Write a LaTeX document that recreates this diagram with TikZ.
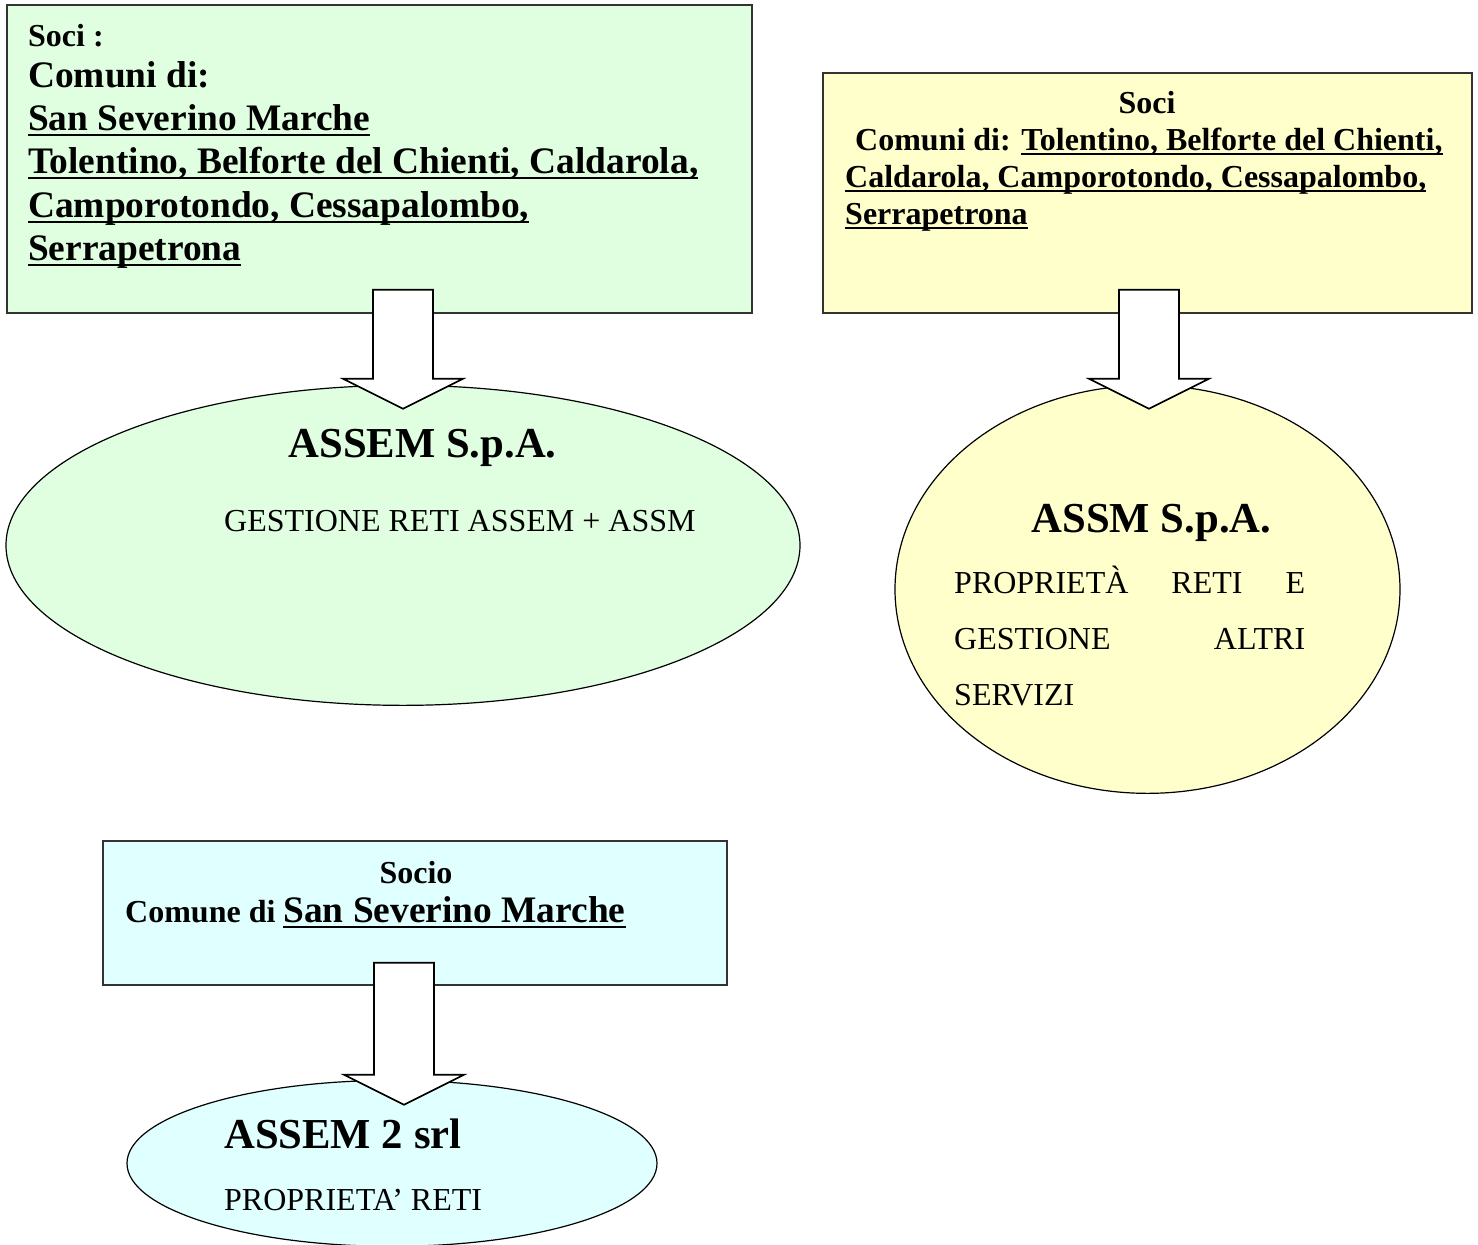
\documentclass[tikz,border=0pt]{standalone}
\usepackage{fontspec}
\setmainfont{Liberation Serif}
\usetikzlibrary{positioning, calc, shapes.geometric}
\definecolor{verdino}{RGB}{224,255,224}
\definecolor{giallino}{RGB}{255,255,204}
\definecolor{azzurrino}{RGB}{224,255,255}
\newcommand{\piccolo}{\fontsize{32}{37}\selectfont}
\newcommand{\medio}{\fontsize{37.4}{43}\selectfont}
\newcommand{\grande}{\fontsize{42.7}{49}\selectfont}
\newcommand{\sottolinea}[1]{\setbox0\hbox{#1}\rlap{\rule[-0.17em]{\wd0}{0.075em}}\box0}
\newcommand{\frecciablocco}[2]{%
	\draw[freccia] let \p1=(#1), \p2=(#2) in
	(\x2-30pt,\y1) -- (\x2+30pt,\y1) -- (\x2+30pt,\y2+30pt) -- (\x2+60pt,\y2+30pt)
	-- (\x2,\y2) -- (\x2-60pt,\y2+30pt) -- (\x2-30pt,\y2+30pt) -- cycle;}
\tikzset{
	x=1pt, y=-1pt,
	socibox/.style={draw=black!80, line width=1.5pt, inner sep=0pt},
	societa/.style={ellipse, draw, line width=1.2pt, inner sep=0pt},
	freccia/.style={draw, fill=white, line width=1.6pt, line join=miter},
	riga/.style={anchor=base west, inner sep=0pt, font=\bfseries\medio}}

\begin{document}
\begin{tikzpicture}
	\useasboundingbox (0,0) rectangle (1478,1245);
	
	% soci
	\node[socibox, fill=verdino, minimum width=745pt, minimum height=308pt] (box1) at (379.5,159) {};
	\node[socibox, fill=giallino, minimum width=649pt, minimum height=240pt] (box2) at (1147.5,193) {};
	\node[socibox, fill=azzurrino, minimum width=624pt, minimum height=144pt] (box3) at (415,913) {};
	
	% societa
	\node[societa, fill=verdino, minimum width=794pt, minimum height=320pt, below=71pt of box1, xshift=23.5pt] (ell1) {};
	\node[societa, fill=giallino, minimum width=505pt, minimum height=408pt, below=71pt of box2] (ell2) {};
	\node[societa, fill=azzurrino, minimum width=530pt, minimum height=166pt, below=94pt of box3, xshift=-23pt] (ell3) {};
	
	\coordinate (f1a) at ($(box1.south)+(23.5,-24)$);
	\coordinate (f1b) at ($(ell1.north)+(0,24)$);
	\coordinate (f2a) at ($(box2.south)+(1.5,-24)$);
	\coordinate (f2b) at ($(ell2.north)+(1.5,24)$);
	\coordinate (f3a) at ($(box3.south)+(-11,-23)$);
	\coordinate (f3b) at ($(ell3.north)+(12,25)$);
	\frecciablocco{f1a}{f1b}
	\frecciablocco{f2a}{f2b}
	\frecciablocco{f3a}{f3b}
	
	% testi
	\node[riga, font=\bfseries\piccolo] (s1) at (28,46) {Soci :};
	\node[riga] (c1) at (28,87) {Comuni di:};
	\node[riga] (c1a) at (28,130) {\sottolinea{San Severino Marche}};
	\node[riga] (c1b) at (28,173) {\sottolinea{Tolentino, Belforte del Chienti, Caldarola,}};
	\node[riga] (c1c) at (28,217) {\sottolinea{Camporotondo, Cessapalombo,}};
	\node[riga] (c1d) at (28,260) {\sottolinea{Serrapetrona}};
	
	\node[riga, anchor=base, font=\bfseries\piccolo] (s2) at (1147,113) {Soci};
	\node[riga, font=\bfseries\piccolo] (c2) at (855,150) {Comuni di: \sottolinea{Tolentino, Belforte del Chienti,}};
	\node[riga, font=\bfseries\piccolo] (c2a) at (845,187) {\sottolinea{Caldarola, Camporotondo, Cessapalombo,}};
	\node[riga, font=\bfseries\piccolo] (c2b) at (845,224) {\sottolinea{Serrapetrona}};
	
	\node[riga, anchor=base, font=\bfseries\piccolo] (s3) at (416,883) {Socio};
	\node[riga, font=\bfseries\piccolo] (c3) at (125,922) {Comune di {\medio\sottolinea{San Severino Marche}}};
	
	\node[riga, anchor=base, font=\bfseries\grande] (n1) at (422.5,457) {ASSEM S.p.A.};
	\node[riga, font=\piccolo] (d1) at (224,531) {GESTIONE RETI ASSEM + ASSM};
	
	\node[riga, anchor=base, font=\bfseries\grande] (n2) at (1151.5,532) {ASSM S.p.A.};
	\node[riga, font=\piccolo] (d2a) at (954,593) {\hbox to 351pt{PROPRIETÀ\hfill RETI\hfill E}};
	\node[riga, font=\piccolo] (d2b) at (954,649) {\hbox to 351pt{GESTIONE\hfill ALTRI}};
	\node[riga, font=\piccolo] (d2c) at (954,705) {SERVIZI};
	
	\node[riga, font=\bfseries\grande] (n3) at (224,1148) {ASSEM 2 srl};
	\node[riga, font=\piccolo] (d3) at (224,1210) {PROPRIETA’ RETI};
	
\end{tikzpicture}
\end{document}
